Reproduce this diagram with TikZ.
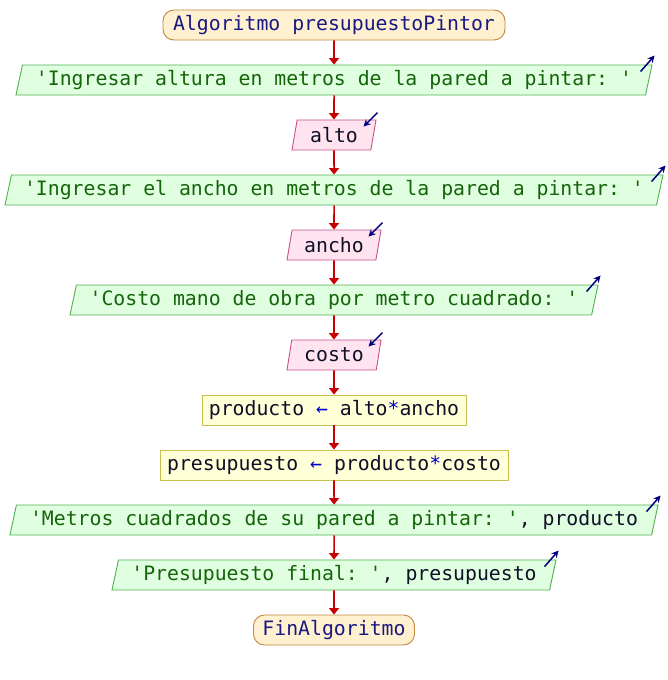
\documentclass[tikz,border=0pt]{standalone}
\usepackage{fontspec}
\setmonofont{DejaVu Sans Mono}
\usetikzlibrary{shapes.geometric,calc,arrows.meta}
\definecolor{flowred}{RGB}{200,0,0}
\definecolor{ionavy}{RGB}{0,0,128}
\definecolor{kwcol}{RGB}{25,25,130}
\definecolor{strcol}{RGB}{20,100,10}
\definecolor{varcol}{RGB}{15,15,40}
\definecolor{opcol}{RGB}{0,0,200}
\definecolor{sefill}{RGB}{255,240,208}
\definecolor{sedraw}{RGB}{192,136,64}
\definecolor{outfill}{RGB}{224,255,224}
\definecolor{outdraw}{RGB}{80,176,80}
\definecolor{infill}{RGB}{255,228,240}
\definecolor{indraw}{RGB}{200,80,138}
\definecolor{prfill}{RGB}{255,255,216}
\definecolor{prdraw}{RGB}{200,192,80}
\newcommand{\kw}[1]{\textcolor{kwcol}{#1}}
\newcommand{\str}[1]{\textcolor{strcol}{#1}}
\newcommand{\vr}[1]{\textcolor{varcol}{#1}}
\newcommand{\op}[1]{\textcolor{opcol}{#1}}
\tikzset{
  base/.style={font=\ttfamily\fontsize{19.8}{23}\selectfont, minimum height=30pt, inner sep=0pt, line width=0.9pt},
  startend/.style={base, rectangle, rounded corners=11pt, draw=sedraw, fill=sefill},
  outbox/.style={base, trapezium, trapezium left angle=71.57, trapezium right angle=108.43, trapezium stretches body, draw=outdraw, fill=outfill},
  inbox/.style={base, trapezium, trapezium left angle=71.57, trapezium right angle=108.43, trapezium stretches body, draw=indraw, fill=infill},
  procbox/.style={base, rectangle, draw=prdraw, fill=prfill},
  flow/.style={draw=flowred, line width=1.6pt, -{Triangle[length=6.5pt,width=10pt]}},
  ioarrow/.style={draw=ionavy, line width=1.5pt, -{Stealth[length=7pt,width=7pt]}},
}
\begin{document}
\begin{tikzpicture}[x=1pt,y=-1pt]
\path[use as bounding box, fill=white] (0,0) rectangle (668,680);
\node[startend, minimum width=342pt] (s) at (334,25) {\kw{Algoritmo presupuestoPintor}};
\node[outbox, minimum width=636pt] (o1) at (334,80) {\str{'Ingresar altura en metros de la pared a pintar: '}};
\node[inbox, minimum width=84pt] (i1) at (334,135) {\vr{alto}};
\node[outbox, minimum width=658pt] (o2) at (334,190) {\str{'Ingresar el ancho en metros de la pared a pintar: '}};
\node[inbox, minimum width=94pt] (i2) at (334,245) {\vr{ancho}};
\node[outbox, minimum width=528pt] (o3) at (334,300) {\str{'Costo mano de obra por metro cuadrado: '}};
\node[inbox, minimum width=94pt] (i3) at (334,355) {\vr{costo}};
\node[procbox, minimum width=264pt] (p1) at (334,410) {\vr{producto} \op{←} \vr{alto}\op{*}\vr{ancho}};
\node[procbox, minimum width=348pt] (p2) at (334,465) {\vr{presupuesto} \op{←} \vr{producto}\op{*}\vr{costo}};
\node[outbox, minimum width=648pt] (o4) at (334,520) {\str{'Metros cuadrados de su pared a pintar: '}\vr{, producto}};
\node[outbox, minimum width=444pt] (o5) at (334,575) {\str{'Presupuesto final: '}\vr{, presupuesto}};
\node[startend, minimum width=161pt] (e) at (334,630) {\kw{FinAlgoritmo}};
\foreach \a/\b in {s/o1,o1/i1,i1/o2,o2/i2,i2/o3,o3/i3,i3/p1,p1/p2,p2/o4,o4/o5,o5/e}
  \draw[flow] (\a.south) -- (\b.north);
\foreach \n in {o1,o2,o3,o4,o5}
  \draw[ioarrow] ($(\n.top right corner)+(-12,7)$) -- ($(\n.top right corner)+(2,-9)$);
\foreach \n in {i1,i2,i3}
  \draw[ioarrow] ($(\n.top right corner)+(1,-7)$) -- ($(\n.top right corner)+(-13,7)$);
\end{tikzpicture}
\end{document}
